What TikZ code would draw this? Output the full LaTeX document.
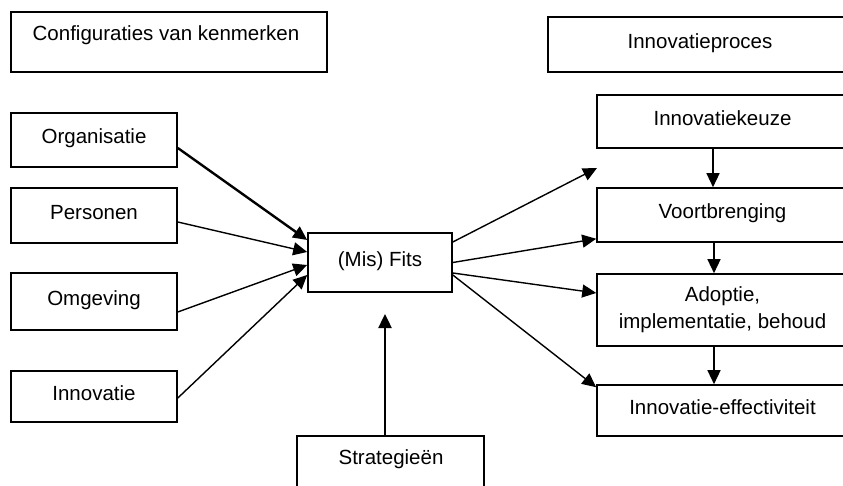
\documentclass[tikz,border=0pt]{standalone}
\usepackage{fontspec}
\setmainfont{Liberation Sans}
\usetikzlibrary{arrows.meta}
\begin{document}
\begin{tikzpicture}[x=1pt,y=-1pt,
  box/.style={draw,line width=1.6pt,rectangle,inner sep=0pt,font=\fontsize{20.5}{27}\selectfont},
  one/.style={text height=0.75em,text depth=0em},
  txt/.style={inner sep=0pt,font=\fontsize{20.5}{27}\selectfont,text height=0.75em,text depth=0em},
  arr/.style={line width=1.4pt,-{Triangle[length=14pt,width=13pt]}},
  barr/.style={line width=2.4pt,-{Triangle[length=14pt,width=13pt]}}]
\useasboundingbox (0,0) rectangle (843,486);
% header boxes
\node[box,minimum width=316pt,minimum height=60pt] (conf) at (169,42) {};
\node[txt] (conft) at (166,37) {Configuraties van kenmerken};
\node[box,one,minimum width=304pt,minimum height=55pt] (proc) at (700,44.5) {Innovatieproces};
% left boxes
\node[box,one,minimum width=166pt,minimum height=54pt] (org) at (94,140) {Organisatie};
\node[box,one,minimum width=166pt,minimum height=55pt] (pers) at (94,215.5) {Personen};
\node[box,one,minimum width=166pt,minimum height=57pt] (omg) at (94,301.5) {Omgeving};
\node[box,one,minimum width=166pt,minimum height=51pt] (inn) at (94,396.5) {Innovatie};
% centre
\node[box,one,minimum width=144pt,minimum height=59pt] (fits) at (380,262.5) {(Mis) Fits};
\node[box,minimum width=187pt,minimum height=56pt] (strat) at (390.5,464) {};
\node[txt] (stratt) at (391,461) {Strategieën};
% right boxes
\node[box,one,minimum width=251pt,minimum height=53pt] (keuze) at (722.5,121.5) {Innovatiekeuze};
\node[box,one,minimum width=251pt,minimum height=54pt] (voort) at (722.5,215) {Voortbrenging};
\node[box,align=center,minimum width=251pt,minimum height=72pt] (adopt) at (722.5,310) {Adoptie,\\implementatie, behoud};
\node[box,one,minimum width=251pt,minimum height=51pt] (eff) at (722.5,410.5) {Innovatie-effectiviteit};
% inputs
\draw[barr] ([yshift=-8pt]org.east) -- ([yshift=22.5pt]fits.west);
\draw[arr] ([yshift=-6.5pt]pers.east) -- ([yshift=10.5pt]fits.west);
\draw[arr] ([yshift=-10.5pt]omg.east) -- ([yshift=-2.5pt]fits.west);
\draw[arr] ([yshift=-1.5pt]inn.east) -- ([yshift=-12.5pt]fits.west);
% strategy
\coordinate (stip) at (385,314);
\draw[barr] ([xshift=-5.5pt]strat.north) -- (stip);
% outputs
\coordinate (gaptip) at (597,168);
\draw[arr] ([yshift=20.5pt]fits.east) -- (gaptip);
\draw[arr] (fits.east) -- ([yshift=4pt]voort.south west);
\draw[arr] ([yshift=-10.5pt]fits.east) -- ([yshift=17pt]adopt.west);
\draw[arr] ([yshift=-12.5pt]fits.east) -- ([yshift=-3pt]eff.north west);
% process chain
\draw[arr] ([xshift=-9.5pt]keuze.south) -- ([xshift=-9.5pt]voort.north);
\draw[arr] ([xshift=-8.5pt]voort.south) -- ([xshift=-8.5pt]adopt.north);
\draw[arr] ([xshift=-8.5pt]adopt.south) -- ([xshift=-8.5pt]eff.north);
\end{tikzpicture}
\end{document}
